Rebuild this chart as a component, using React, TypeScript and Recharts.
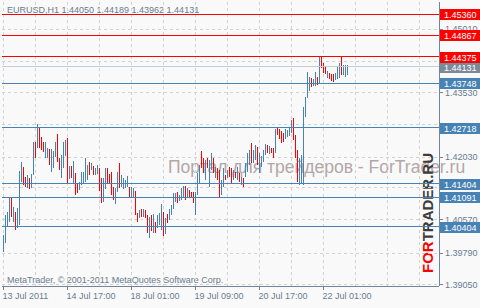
import React from 'react';
import { ComposedChart, Bar, XAxis, YAxis, CartesianGrid, ReferenceLine } from 'recharts';

document.body.style.margin = '0';

// EURUSD H1 bars (high / low per hour, 1 = up bar)
const highs = [
  1.4021, 1.4068, 1.4075, 1.4107, 1.4107, 1.4086, 1.4075, 1.4084, 1.4170, 1.4191,
  1.4180, 1.4156, 1.4161, 1.4154, 1.4163, 1.4238, 1.4238, 1.4280, 1.4271, 1.4250,
  1.4238, 1.4238, 1.4224, 1.4222, 1.4222, 1.4217, 1.4238, 1.4257, 1.4201, 1.4208,
  1.4238, 1.4243, 1.4247, 1.4182, 1.4182, 1.4194, 1.4166, 1.4140, 1.4145, 1.4168,
  1.4168, 1.4201, 1.4184, 1.4191, 1.4189, 1.4182, 1.4177, 1.4184, 1.4177, 1.4154,
  1.4154, 1.4177, 1.4177, 1.4163, 1.4168, 1.4133, 1.4131, 1.4168, 1.4189, 1.4161,
  1.4154, 1.4149, 1.4159, 1.4133, 1.4133, 1.4131, 1.4124, 1.4072, 1.4079, 1.4082,
  1.4082, 1.4079, 1.4068, 1.4063, 1.4068, 1.4070, 1.4051, 1.4068, 1.4072, 1.4093,
  1.4075, 1.4061, 1.4070, 1.4082, 1.4091, 1.4119, 1.4119, 1.4121, 1.4114, 1.4131,
  1.4135, 1.4135, 1.4131, 1.4126, 1.4121, 1.4121, 1.4121, 1.4166, 1.4184, 1.4217,
  1.4201, 1.4196, 1.4201, 1.4196, 1.4212, 1.4201, 1.4180, 1.4177, 1.4173, 1.4149,
  1.4177, 1.4161, 1.4173, 1.4180, 1.4177, 1.4173, 1.4168, 1.4180, 1.4166, 1.4156,
  1.4154, 1.4189, 1.4212, 1.4219, 1.4236, 1.4219, 1.4231, 1.4226, 1.4212, 1.4205,
  1.4219, 1.4233, 1.4231, 1.4229, 1.4224, 1.4224, 1.4268, 1.4273, 1.4268, 1.4264,
  1.4259, 1.4268, 1.4266, 1.4273, 1.4289, 1.4294, 1.4254, 1.4219, 1.4201, 1.4208,
  1.4320, 1.4343, 1.4401, 1.4390, 1.4387, 1.4385, 1.4401, 1.4390, 1.4436, 1.4439,
  1.4422, 1.4413, 1.4404, 1.4399, 1.4397, 1.4397, 1.4399, 1.4413, 1.4422, 1.4439,
  1.4418, 1.4418, 1.44189,
];
const lows = [
  1.3981, 1.4002, 1.4040, 1.4051, 1.4063, 1.4051, 1.4033, 1.4037, 1.4044, 1.4145,
  1.4138, 1.4133, 1.4131, 1.4128, 1.4131, 1.4161, 1.4201, 1.4224, 1.4224, 1.4219,
  1.4215, 1.4201, 1.4201, 1.4184, 1.4168, 1.4177, 1.4203, 1.4191, 1.4173, 1.4154,
  1.4177, 1.4205, 1.4140, 1.4152, 1.4154, 1.4140, 1.4114, 1.4119, 1.4126, 1.4138,
  1.4142, 1.4145, 1.4149, 1.4161, 1.4173, 1.4161, 1.4161, 1.4163, 1.4124, 1.4096,
  1.4098, 1.4128, 1.4142, 1.4140, 1.4114, 1.4103, 1.4093, 1.4121, 1.4131, 1.4133,
  1.4128, 1.4131, 1.4133, 1.4110, 1.4110, 1.4110, 1.4068, 1.4051, 1.4061, 1.4063,
  1.4063, 1.4061, 1.4026, 1.4014, 1.4030, 1.4026, 1.4026, 1.4037, 1.4044, 1.4033,
  1.4019, 1.4023, 1.4049, 1.4056, 1.4068, 1.4082, 1.4098, 1.4096, 1.4100, 1.4103,
  1.4107, 1.4103, 1.4107, 1.4110, 1.4107, 1.4096, 1.4068, 1.4114, 1.4142, 1.4177,
  1.4166, 1.4149, 1.4177, 1.4133, 1.4173, 1.4166, 1.4154, 1.4149, 1.4107, 1.4114,
  1.4133, 1.4149, 1.4154, 1.4156, 1.4142, 1.4149, 1.4154, 1.4149, 1.4145, 1.4138,
  1.4133, 1.4156, 1.4168, 1.4184, 1.4189, 1.4189, 1.4196, 1.4184, 1.4166, 1.4180,
  1.4191, 1.4208, 1.4212, 1.4210, 1.4212, 1.4201, 1.4212, 1.4254, 1.4245, 1.4236,
  1.4238, 1.4245, 1.4250, 1.4252, 1.4259, 1.4243, 1.4201, 1.4145, 1.4138, 1.4140,
  1.4138, 1.4296, 1.4341, 1.4357, 1.4366, 1.4369, 1.4369, 1.4371, 1.4376, 1.4411,
  1.4399, 1.4397, 1.4387, 1.4385, 1.4380, 1.4378, 1.4383, 1.4385, 1.4387, 1.4394,
  1.4394, 1.4390, 1.43962,
];
const upBar = [
  1, 1, 1, 1, 0, 1, 0, 1, 1, 1, 0, 0, 1, 0, 1, 1, 0, 1, 0, 0,
  0, 1, 1, 0, 1, 1, 1, 0, 0, 1, 1, 1, 0, 1, 0, 1, 0, 0, 1, 1,
  1, 1, 1, 0, 1, 0, 1, 1, 0, 0, 1, 1, 0, 0, 0, 0, 1, 1, 0, 1,
  1, 1, 1, 0, 1, 1, 0, 0, 1, 0, 1, 0, 0, 1, 0, 1, 0, 1, 1, 1,
  0, 1, 0, 1, 1, 1, 1, 0, 1, 1, 1, 0, 1, 0, 0, 0, 1, 1, 1, 0,
  0, 1, 0, 1, 1, 0, 1, 0, 0, 1, 1, 0, 1, 0, 0, 1, 0, 1, 0, 1,
  0, 1, 1, 1, 0, 1, 1, 0, 1, 1, 1, 1, 0, 1, 0, 0, 1, 0, 0, 0,
  0, 1, 1, 1, 1, 0, 0, 0, 1, 1, 1, 1, 1, 1, 0, 1, 1, 0, 1, 0,
  0, 0, 1, 0, 0, 0, 1, 1, 1, 0, 1, 1, 1,
];

const lastOhlc = [1.4405, 1.44189, 1.43962, 1.44131];

const redLevels = [1.4536, 1.44867, 1.44375];
const blueLevels = [1.43748, 1.42718, 1.41404, 1.41091, 1.40404];
const bidLevel = 1.44131;

const priceTicks = [1.3905, 1.3979, 1.4057, 1.4132, 1.4203, 1.4278, 1.4353, 1.4427, 1.4501];
// price labels that the level tags hide completely
const coveredTicks = [1.4132, 1.4278, 1.4427];
const gridSteps = [0, 16, 32, 48, 64, 80, 96, 112, 128, 144, 160, 176, 192, 208];
const timeTicks = [0, 32, 64, 96, 128, 160];
const timeLabels = ['13 Jul 2011', '14 Jul 17:00', '18 Jul 01:00', '19 Jul 09:00', '20 Jul 17:00', '22 Jul 01:00'];

const RED = '#ff0000';
const BLUE = '#4682b4';
const BID = '#7b8a99';
const FRAME = '#71849a';
const TEXT = '#6a7c8f';
const FONT = '"Liberation Sans", Arial, sans-serif';

const bars = highs.map((h, i) => ({ i, range: [lows[i], h], up: upBar[i] === 1 }));
// plain price ticks first, level tags after them so the tags are painted on top
const tagPrices = [bidLevel, ...redLevels, ...blueLevels];
const axisValues = [...priceTicks, ...tagPrices];

const tagColor = (p: number) => (p === bidLevel ? BID : redLevels.includes(p) ? RED : BLUE);

const Stick = (props: any) => {
  const { x, y, height, payload } = props;
  return (
    <rect
      x={Math.round(x)}
      y={Math.round(y)}
      width={1}
      height={Math.max(1, Math.round(height))}
      fill={payload.up ? BLUE : RED}
    />
  );
};

const PriceTick = (props: any) => {
  const { x, y, payload } = props;
  const v = payload.value;
  if (tagPrices.includes(v)) {
    const top = Math.round(y) - 5;
    return (
      <g>
        <rect x={x + 1} y={top} width={41} height={11} fill={tagColor(v)} />
        <text x={x + 5} y={top + 9} fill="#ffffff" fontSize={9} fontFamily={FONT}>
          {v.toFixed(5)}
        </text>
      </g>
    );
  }
  return (
    <g>
      <line x1={x} x2={x + 4} y1={y} y2={y} stroke={FRAME} shapeRendering="crispEdges" />
      {!coveredTicks.includes(v) && (
        <text x={x + 6} y={y + 3} fill={TEXT} fontSize={9} fontFamily={FONT}>
          {v.toFixed(5)}
        </text>
      )}
    </g>
  );
};

const TimeTick = (props: any) => {
  const { x, y, payload } = props;
  const k = timeTicks.indexOf(payload.value);
  if (k < 0) return <g />;
  return (
    <g>
      <line x1={x} x2={x} y1={y} y2={y + 4} stroke={FRAME} shapeRendering="crispEdges" />
      <text x={x - 1} y={y + 13} fill={TEXT} fontSize={9} fontFamily={FONT}>
        {timeLabels[k]}
      </text>
    </g>
  );
};

const App: React.FC = () => {
  return (
    <div style={{ position: 'relative', width: 480, height: 308, background: '#f9f9f9', overflow: 'hidden' }}>
      <svg width={480} height={308} style={{ position: 'absolute', left: 0, top: 0 }}>
        <text x={7} y={13} fill={TEXT} fontSize={9} fontFamily={FONT}>
          {'EURUSD,H1  ' + lastOhlc.map(v => v.toFixed(5)).join(' ')}
        </text>
        <text x={168} y={172.5} fill="#b3a7a7" fontSize={17.5} fontFamily={FONT}>
          Портал для трейдеров - ForTrader.ru
        </text>
        <g transform="translate(433,273) rotate(-90)">
          <text x={0} y={0} fontSize={15} fontWeight="bold" fontFamily={FONT}>
            <tspan fill={RED}>FOR</tspan>
            <tspan fill="#3c3c3c">TRADER.RU</tspan>
          </text>
        </g>
        <text x={7} y={283} fill={TEXT} fontSize={9} fontFamily={FONT}>
          MetaTrader, © 2001-2011 MetaQuotes Software Corp.
        </text>
      </svg>
      <div style={{ position: 'absolute', left: 0, top: 0 }}>
        <ComposedChart width={480} height={308} data={bars} margin={{ top: 2, right: 0, bottom: 0, left: 2 }}>
          <CartesianGrid
            stroke="#d2d2d2"
            strokeDasharray="3 3"
            shapeRendering="crispEdges"
            horizontalValues={priceTicks}
            verticalValues={gridSteps}
          />
          <XAxis
            dataKey="i"
            type="number"
            domain={[-0.75, 217.75]}
            allowDataOverflow
            ticks={gridSteps}
            interval={0}
            height={22}
            tickSize={0}
            tickMargin={0}
            tickLine={false}
            axisLine={{ stroke: FRAME, shapeRendering: 'crispEdges' }}
            tick={<TimeTick />}
          />
          <XAxis
            xAxisId="top"
            orientation="top"
            type="number"
            domain={[0, 1]}
            height={0}
            tick={false}
            tickLine={false}
            axisLine={{ stroke: FRAME, shapeRendering: 'crispEdges' }}
          />
          <YAxis
            orientation="right"
            type="number"
            domain={[1.39022, 1.45647]}
            allowDataOverflow
            ticks={axisValues}
            interval={0}
            width={41}
            tickSize={0}
            tickMargin={0}
            tickLine={false}
            axisLine={{ stroke: FRAME, shapeRendering: 'crispEdges' }}
            tick={<PriceTick />}
          />
          <YAxis
            yAxisId="left"
            orientation="left"
            type="number"
            domain={[0, 1]}
            width={0}
            tick={false}
            tickLine={false}
            axisLine={{ stroke: FRAME, shapeRendering: 'crispEdges' }}
          />
          <Bar dataKey="range" barSize={1} shape={<Stick />} isAnimationActive={false} />
          <ReferenceLine y={bidLevel} stroke="#c6ccd2" shapeRendering="crispEdges" />
          {redLevels.map(p => (
            <ReferenceLine key={'r' + p} y={p} stroke={RED} shapeRendering="crispEdges" />
          ))}
          {blueLevels.map(p => (
            <ReferenceLine key={'b' + p} y={p} stroke={BLUE} shapeRendering="crispEdges" />
          ))}
        </ComposedChart>
      </div>
    </div>
  );
};

export default App;
